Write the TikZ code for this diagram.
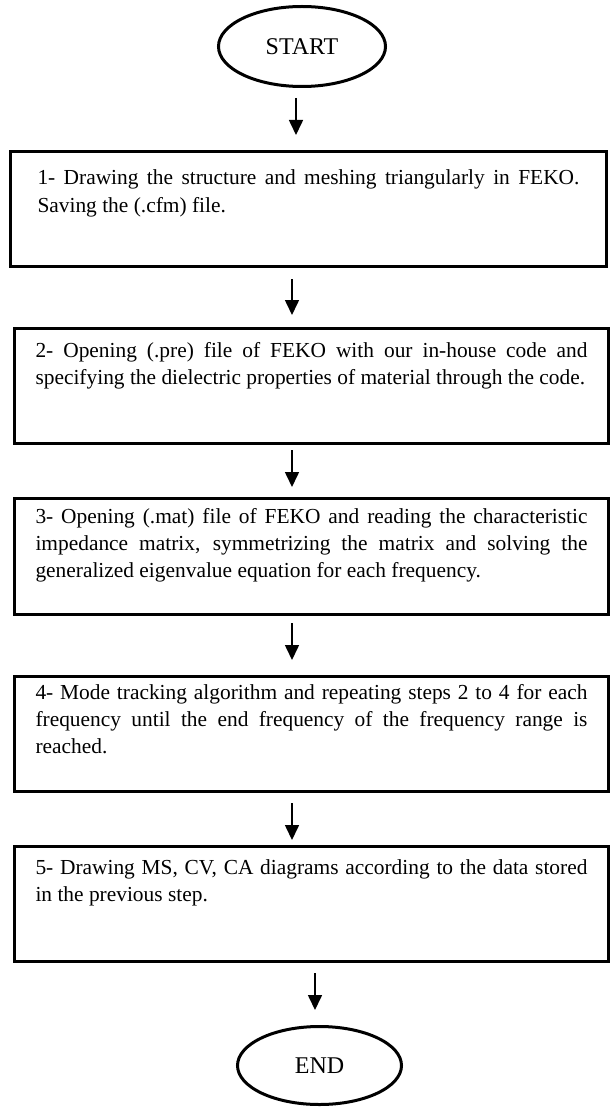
\documentclass[tikz,border=0pt]{standalone}
\usepackage{fontspec}
\setmainfont{Liberation Serif}
\usetikzlibrary{arrows.meta,shapes.geometric}

\begin{document}
\begin{tikzpicture}[
        x=0.5pt, y=-0.5pt,
        terminal/.style={ellipse, draw, line width=1.5pt, inner sep=0pt,
            minimum width=83.5pt, minimum height=40pt,
            font=\fontsize{12}{14}\selectfont},
        stepbox/.style={rectangle, draw, line width=1.5pt, anchor=north west,
            text width=276pt, align=justify, inner xsep=10.5pt, inner ysep=0pt,
            font=\fontsize{10.7}{13.5}\selectfont},
        flow/.style={line width=0.8pt, -{Triangle[length=7.5pt, width=7pt]}},
    ]
    \useasboundingbox (0,0) rectangle (611,1107);

    % start
    \node[terminal] (start) at (302,46.5) {START};

    % steps
    \node[stepbox, text width=271pt, inner xsep=13.5pt, text height=16.75pt, text depth=40.75pt]
        (s1) at (9,150) {1- Drawing the structure and meshing triangularly in FEKO.\linebreak
        Saving the (.cfm) file.};
    \node[stepbox, text height=14.25pt, text depth=43.25pt]
        (s2) at (13,327) {2- Opening (.pre) file of FEKO with our in-house code and\linebreak
        specifying the dielectric properties of material through the code.};
    \node[stepbox, text height=12.25pt, text depth=45.75pt]
        (s3) at (13,497) {3- Opening (.mat) file of FEKO and reading the characteristic\linebreak
        impedance matrix, symmetrizing the matrix and solving the\linebreak
        generalized eigenvalue equation for each frequency.};
    \node[stepbox, text height=11.25pt, text depth=46.25pt]
        (s4) at (13,675) {4- Mode tracking algorithm and repeating steps 2 to 4 for each\linebreak
        frequency until the end frequency of the frequency range is\linebreak
        reached.};
    \node[stepbox, text height=13.75pt, text depth=43.75pt]
        (s5) at (13,845) {5- Drawing MS, CV, CA diagrams according to the data stored\linebreak
        in the previous step.};

    % end
    \node[terminal, minimum width=82pt, minimum height=39pt] (finish) at (319.5,1065.5) {END};

    % arrows
    \draw[flow, shorten <=5pt, shorten >=7.5pt] (start.south -| 296,0) -- (s1.north -| 296,0);
    \draw[flow, shorten <=5.5pt, shorten >=6pt] (s1.south -| 292,0) -- (s2.north -| 292,0);
    \draw[flow, shorten <=2.5pt, shorten >=5pt] (s2.south -| 292,0) -- (s3.north -| 292,0);
    \draw[flow, shorten <=3.5pt, shorten >=7.5pt] (s3.south -| 292,0) -- (s4.north -| 292,0);
    \draw[flow, shorten <=5pt, shorten >=2.5pt] (s4.south -| 292,0) -- (s5.north -| 292,0);
    \draw[flow, shorten <=5pt, shorten >=7.5pt] (s5.south -| 315,0) -- (finish.north -| 315,0);
\end{tikzpicture}
\end{document}
